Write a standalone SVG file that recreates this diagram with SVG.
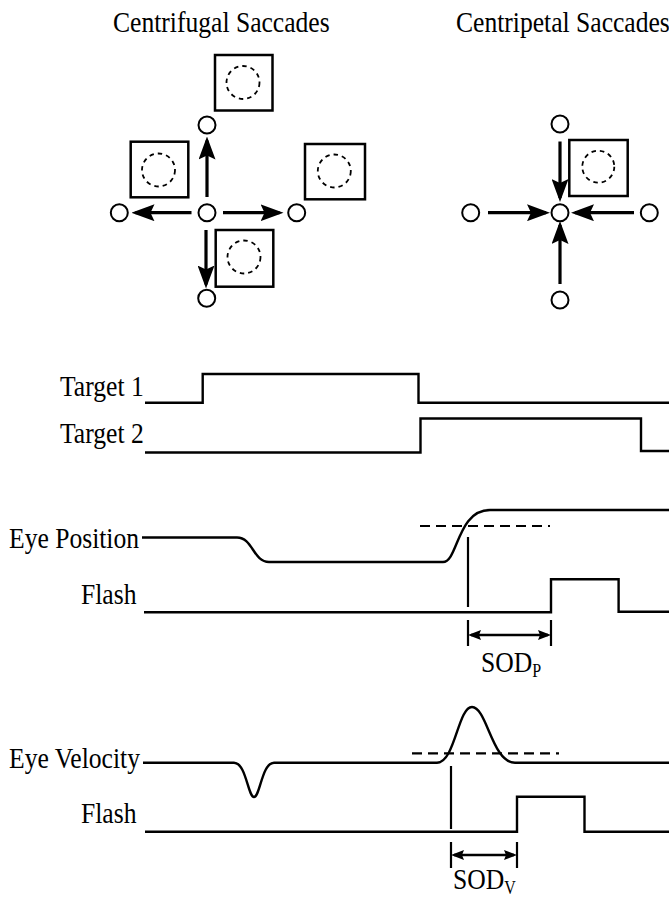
<svg xmlns="http://www.w3.org/2000/svg" width="669" height="897" viewBox="0 0 669 897">
<style>
  text { font-family: "Liberation Serif", "Times New Roman", serif; font-size: 25.6px; fill: #000; }
  .sub { font-size: 16px; }
  .sig { fill: none; stroke: #000; stroke-width: 2.4; stroke-linejoin: miter; }
  .dash { fill: none; stroke: #000; stroke-width: 2.2; stroke-dasharray: 10 6; }
  .tick { fill: none; stroke: #000; stroke-width: 2.2; }
  .target { fill: #fff; stroke: #000; stroke-width: 2; }
  .box { fill: #fff; stroke: #000; stroke-width: 2.5; }
  .rf { fill: none; stroke: #000; stroke-width: 1.8; stroke-dasharray: 4.5 4; }
  .arr { fill: none; stroke: #000; stroke-width: 3.2; marker-end: url(#head); }
  .sod { fill: none; stroke: #000; stroke-width: 2.4; marker-start: url(#sh); marker-end: url(#sh); }
</style>
<defs>
  <marker id="head" markerUnits="userSpaceOnUse" markerWidth="23" markerHeight="17" viewBox="0 0 23 17" refX="19" refY="8.5" orient="auto">
    <path d="M0,0 L23,8.5 L0,17 L4,8.5 z" fill="#000"/>
  </marker>
  <marker id="sh" markerUnits="userSpaceOnUse" markerWidth="13" markerHeight="10" viewBox="0 0 13 10" refX="10" refY="5" orient="auto-start-reverse">
    <path d="M0,0 L13,5 L0,10 L2,5 z" fill="#000"/>
  </marker>
</defs>
<rect width="669" height="897" fill="#fff"/>

<!-- Titles -->
<text id="title-centrifugal" transform="matrix(1 0 0 1.13 113 31.5)">Centrifugal Saccades</text>
<text id="title-centripetal" transform="matrix(1 0 0 1.13 456 31.5)">Centripetal Saccades</text>

<!-- Centrifugal panel -->
<g id="centrifugal">
  <g id="cf-box-top"><rect class="box" x="215" y="55" width="57.5" height="55.5"/><circle class="rf" cx="243" cy="82.5" r="16.5"/></g>
  <g id="cf-box-left"><rect class="box" x="130.7" y="141.7" width="57.6" height="55.6"/><circle class="rf" cx="158.5" cy="170" r="16.5"/></g>
  <g id="cf-box-right"><rect class="box" x="305" y="144" width="60" height="55.3"/><circle class="rf" cx="334.3" cy="171" r="16.5"/></g>
  <g id="cf-box-bottom"><rect class="box" x="215.7" y="230" width="57.6" height="56.7"/><circle class="rf" cx="244" cy="257" r="16.5"/></g>
  <g id="cf-connectors">
    <path class="arr" d="M207,197 L207,140.5"/>
    <path class="arr" d="M191.5,212.7 L135.5,212.7"/>
    <path class="arr" d="M223,212.7 L279.5,212.7"/>
    <path class="arr" d="M206,230 L206,284.5"/>
  </g>
  <g id="cf-center"><circle class="target" cx="207" cy="212.7" r="8.5"/></g>
  <g id="cf-top"><circle class="target" cx="207" cy="125" r="8.5"/></g>
  <g id="cf-left"><circle class="target" cx="119.3" cy="212.7" r="8.5"/></g>
  <g id="cf-right"><circle class="target" cx="296.7" cy="212.7" r="8.5"/></g>
  <g id="cf-bottom"><circle class="target" cx="206.7" cy="298.3" r="8.5"/></g>
</g>

<!-- Centripetal panel -->
<g id="centripetal">
  <g id="cp-box"><rect class="box" x="569.3" y="140" width="58.4" height="56"/><circle class="rf" cx="598.3" cy="166.7" r="16"/></g>
  <g id="cp-connectors">
    <path class="arr" d="M560,141.5 L560,198"/>
    <path class="arr" d="M488,212.7 L546,212.7"/>
    <path class="arr" d="M634,212.7 L575,212.7"/>
    <path class="arr" d="M560,284 L560,225"/>
  </g>
  <g id="cp-center"><circle class="target" cx="560" cy="212.7" r="8.5"/></g>
  <g id="cp-top"><circle class="target" cx="560" cy="124" r="8.5"/></g>
  <g id="cp-left"><circle class="target" cx="470.7" cy="212.7" r="8.5"/></g>
  <g id="cp-right"><circle class="target" cx="649.3" cy="212.7" r="8.5"/></g>
  <g id="cp-bottom"><circle class="target" cx="560" cy="300" r="8.5"/></g>
</g>

<!-- Target traces -->
<g id="target1">
  <text transform="matrix(1 0 0 1.13 60 396)">Target 1</text>
  <path class="sig" d="M145,402.7 L202.7,402.7 L202.7,374 L418.5,374 L418.5,402.7 L669,402.7"/>
</g>
<g id="target2">
  <text transform="matrix(1 0 0 1.13 60 443)">Target 2</text>
  <path class="sig" d="M145,452.5 L420.5,452.5 L420.5,418.5 L641,418.5 L641,451 L669,451"/>
</g>

<!-- Eye position -->
<g id="eye-position">
  <text transform="matrix(1 0 0 1.13 9 547.5)">Eye Position</text>
  <path class="sig" d="M142,537.5 L237,537.5 C253,537.5 253,562 269,562 L443,562 C458,562 457,510 490,510 L669,510"/>
  <path class="dash" d="M420,526 L550,526"/>
</g>
<g id="flash-p">
  <text transform="matrix(1 0 0 1.13 81 603.5)">Flash</text>
  <path class="sig" d="M144,612.3 L551,612.3 L551,579.3 L618.6,579.3 L618.6,611.7 L669,611.7"/>
</g>
<g id="sod-p">
  <path class="tick" d="M468,537 L468,607"/>
  <path class="tick" d="M468,620 L468,646 M551,620 L551,646"/>
  <path class="sod" d="M471,635 L548,635"/>
  <text transform="matrix(1 0 0 1.13 481 672)">SOD<tspan class="sub" dy="4">P</tspan></text>
</g>

<!-- Eye velocity -->
<g id="eye-velocity">
  <text transform="matrix(1 0 0 1.13 9 767.5)">Eye Velocity</text>
  <path class="sig" d="M143,762.7 L234,762.7 C246,762.7 248,797 254,797 C260,797 262,762.7 274,762.7 L437,762.7 C455,762.7 458,707 472,707 C487,707 492,762.7 515,762.7 L669,762.7"/>
  <path class="dash" d="M412,753.3 L559,753.3"/>
</g>
<g id="flash-v">
  <text transform="matrix(1 0 0 1.13 81 822.5)">Flash</text>
  <path class="sig" d="M145,831.7 L517,831.7 L517,796.7 L584.5,796.7 L584.5,831.7 L669,831.7"/>
</g>
<g id="sod-v">
  <path class="tick" d="M451,766 L451,829"/>
  <path class="tick" d="M451,842 L451,868 M517,842 L517,868"/>
  <path class="sod" d="M454,855 L514,855"/>
  <text transform="matrix(1 0 0 1.13 453 889)">SOD<tspan class="sub" dy="4">V</tspan></text>
</g>
</svg>
